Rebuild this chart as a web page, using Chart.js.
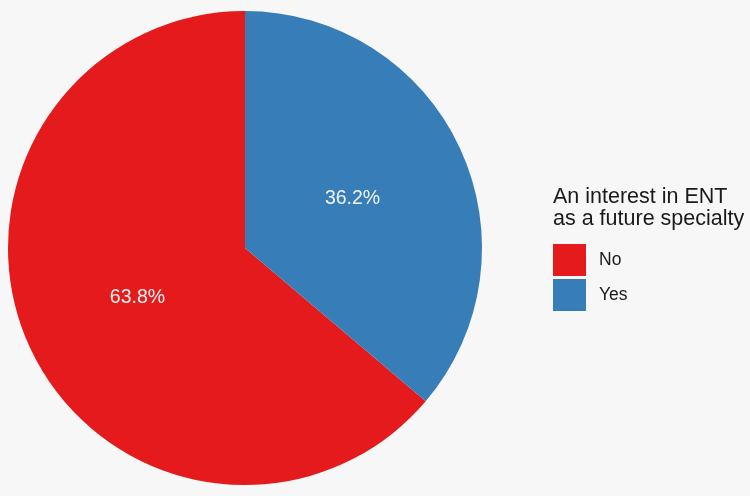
<!DOCTYPE html>
<html>
<head>
<meta charset="utf-8">
<script src="https://cdn.jsdelivr.net/npm/chart.js@4"></script>
<style>
    body { margin: 0; background: #f7f7f7; font-family: "Liberation Sans", Arial, sans-serif; }
    #wrap { position: relative; width: 750px; height: 496px; }
    #legend { position: absolute; left: 553px; top: 185px; color: #1a1a1a; }
    #legend .title { font-size: 21.5px; line-height: 22px; margin-bottom: 13px; white-space: nowrap; }
    #legend .item { display: flex; align-items: center; height: 35px; font-size: 17.5px; }
    #legend .box { width: 33px; height: 32px; margin-right: 13px; }
</style>
</head>
<body>
<div id="wrap">
    <canvas id="pie" width="750" height="496"></canvas>
    <div id="legend"></div>
</div>
<script>
// данные
const categories = ['No', 'Yes'];
const shares = [63.8, 36.2];
const legendTitle = ['An interest in ENT', 'as a future specialty'];
const colors = ['#e41a1c', '#377eb8'];

// подписи процентов внутри секторов
const sliceLabels = {
    id: 'sliceLabels',
    afterDatasetsDraw(chart) {
        const ctx = chart.ctx;
        const meta = chart.getDatasetMeta(0);
        ctx.save();
        ctx.fillStyle = '#f2f2f2';
        ctx.font = '19.5px "Liberation Sans", Arial, sans-serif';
        ctx.textAlign = 'center';
        ctx.textBaseline = 'middle';
        meta.data.forEach((arc, i) => {
            const mid = (arc.startAngle + arc.endAngle) / 2;
            const r = arc.outerRadius * 0.5;
            ctx.fillText(shares[i].toFixed(1) + '%', arc.x + Math.cos(mid) * r, arc.y + Math.sin(mid) * r);
        });
        ctx.restore();
    }
};

new Chart(document.getElementById('pie'), {
    type: 'pie',
    data: {
        labels: categories,
        datasets: [{
            data: shares,
            backgroundColor: colors,
            borderWidth: 0
        }]
    },
    options: {
        responsive: false,
        animation: false,
        rotation: 360 * shares[1] / 100,
        layout: { padding: { left: 8, top: 10, bottom: 10, right: 268 } },
        plugins: {
            legend: { display: false },
            tooltip: { enabled: false }
        }
    },
    plugins: [sliceLabels]
});

// легенда справа
const legend = document.getElementById('legend');
legend.innerHTML = '<div class="title">' + legendTitle.join('<br>') + '</div>' +
    categories.map((c, i) =>
        '<div class="item"><div class="box" style="background:' + colors[i] + '"></div>' + c + '</div>'
    ).join('');
</script>
</body>
</html>
